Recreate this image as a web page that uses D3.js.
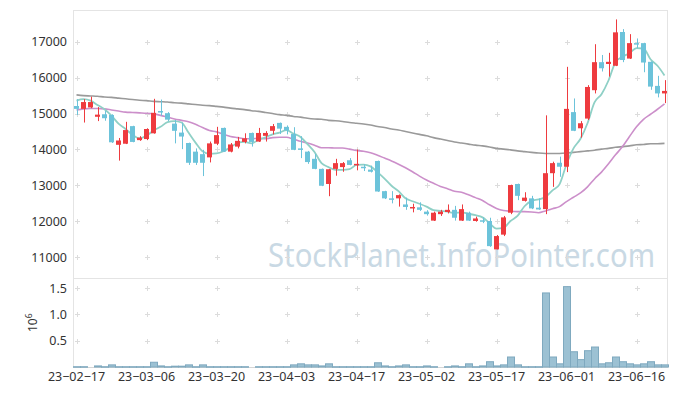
<!DOCTYPE html>
<html>
<head>
<meta charset="utf-8">
<script src="https://cdn.jsdelivr.net/npm/d3@7/dist/d3.min.js"></script>
<style>
    body { margin: 0; background: #fff; }
    svg { display: block; font-family: "Noto Sans", sans-serif; }
</style>
</head>
<body>
<svg id="chart" width="677" height="396"></svg>
<script>

// trading days (yy-mm-dd)
var dates = [
    '23-02-17', '23-02-20', '23-02-21', '23-02-22', '23-02-23', '23-02-24', '23-02-27', '23-02-28', '23-03-02', '23-03-03',
    '23-03-06', '23-03-07', '23-03-08', '23-03-09', '23-03-10', '23-03-13', '23-03-14', '23-03-15', '23-03-16', '23-03-17',
    '23-03-20', '23-03-21', '23-03-22', '23-03-23', '23-03-24', '23-03-27', '23-03-28', '23-03-29', '23-03-30', '23-03-31',
    '23-04-03', '23-04-04', '23-04-05', '23-04-06', '23-04-07', '23-04-10', '23-04-11', '23-04-12', '23-04-13', '23-04-14',
    '23-04-17', '23-04-18', '23-04-19', '23-04-20', '23-04-21', '23-04-24', '23-04-25', '23-04-26', '23-04-27', '23-04-28',
    '23-05-02', '23-05-03', '23-05-04', '23-05-08', '23-05-09', '23-05-10', '23-05-11', '23-05-12', '23-05-15', '23-05-16',
    '23-05-17', '23-05-18', '23-05-19', '23-05-22', '23-05-23', '23-05-24', '23-05-25', '23-05-26', '23-05-30', '23-05-31',
    '23-06-01', '23-06-02', '23-06-05', '23-06-07', '23-06-08', '23-06-09', '23-06-12', '23-06-13', '23-06-14', '23-06-15',
    '23-06-16', '23-06-19', '23-06-20', '23-06-21', '23-06-22'
];

var open = [
    15210, 15130, 15170, 14910, 14980, 14960, 14130, 14160, 14650, 14260,
    14290, 14450, 15070, 15010, 14720, 14470, 14180, 13940, 13870, 13780,
    14160, 14600, 13940, 14080, 14210, 14460, 14220, 14380, 14520, 14740,
    14630, 14430, 14030, 13940, 13740, 13460, 13040, 13460, 13510, 13700,
    13570, 13520, 13440, 13680, 12840, 12640, 12640, 12470, 12380, 12390,
    12270, 12020, 12200, 12260, 12320, 12020, 12240, 12010, 12030, 12010,
    11220, 11630, 12240, 13040, 12570, 12640, 12380, 12340, 13340, 13630,
    13520, 15040, 14590, 14860, 15650, 16430, 16380, 16330, 17270, 16530,
    16960, 16960, 16440, 15770, 15560
];
var high = [
    15400, 15400, 15470, 15180, 15070, 14980, 14320, 14770, 14660, 14370,
    14590, 15410, 15390, 15040, 14820, 14750, 14190, 14030, 13990, 14220,
    14630, 14610, 14180, 14350, 14450, 14470, 14600, 14510, 14710, 14750,
    14670, 14620, 14370, 13960, 13880, 13470, 13460, 13740, 13650, 13760,
    14000, 13590, 13550, 13690, 12850, 12840, 12750, 12660, 12490, 12530,
    12310, 12270, 12320, 12470, 12430, 12470, 12270, 12130, 12110, 12100,
    11620, 12150, 13020, 13050, 12810, 12710, 12640, 14950, 13660, 13800,
    16300, 15420, 14790, 15790, 16930, 16630, 16690, 17620, 17350, 17210,
    17090, 16970, 16450, 16050, 15930
];
var low = [
    14960, 14750, 15150, 14790, 14800, 14180, 13690, 14150, 14200, 14240,
    14260, 14440, 14940, 14790, 14170, 14010, 13570, 13570, 13260, 13640,
    14120, 13930, 13920, 14030, 14170, 14080, 14210, 14220, 14420, 14430,
    14420, 13980, 13760, 13600, 13450, 12980, 12700, 13270, 13380, 13560,
    13420, 13400, 13360, 12820, 12620, 12500, 12410, 12320, 12250, 12290,
    12160, 12010, 12150, 12220, 12020, 12010, 12010, 11990, 11950, 11290,
    11220, 11590, 12200, 12590, 12550, 12340, 12320, 12200, 12960, 13240,
    13370, 14510, 14330, 14820, 15560, 16170, 16030, 16320, 16430, 16520,
    16820, 16150, 15660, 15450, 15290
];
var close = [
    15130, 15320, 15320, 14970, 14870, 14200, 14250, 14540, 14210, 14330,
    14570, 15020, 15030, 14830, 14520, 14360, 13630, 13630, 13630, 14170,
    14400, 13940, 14140, 14240, 14310, 14210, 14460, 14460, 14650, 14580,
    14530, 13990, 14000, 13650, 13460, 12990, 13450, 13620, 13620, 13570,
    13600, 13480, 13380, 12830, 12640, 12610, 12730, 12400, 12400, 12320,
    12200, 12240, 12270, 12320, 12100, 12340, 12020, 12080, 12010, 11310,
    11590, 12110, 13010, 12710, 12660, 12360, 12330, 13340, 13620, 13520,
    15130, 14520, 14730, 15740, 16430, 16260, 16440, 17260, 16490, 16960,
    16940, 16420, 15750, 15560, 15630
];
var volume = [
    15000, 15000, 0, 30000, 15000, 50000, 15000, 15000, 15000, 15000,
    15000, 100000, 30000, 15000, 25000, 25000, 50000, 15000, 50000, 15000,
    15000, 15000, 15000, 15000, 15000, 0, 15000, 15000, 15000, 15000,
    15000, 50000, 70000, 50000, 50000, 30000, 70000, 15000, 15000, 15000,
    15000, 15000, 15000, 90000, 30000, 15000, 30000, 50000, 15000, 15000,
    30000, 15000, 0, 15000, 30000, 15000, 70000, 15000, 30000, 110000,
    30000, 50000, 200000, 50000, 15000, 15000, 15000, 1420000, 200000, 70000,
    1540000, 300000, 150000, 320000, 390000, 70000, 90000, 200000, 110000, 70000,
    50000, 70000, 110000, 50000, 50000
];

// moving averages as drawn
var ma5 = [
    15360, 15400, 15360, 15240, 15120, 14940, 14720, 14570, 14410, 14310,
    14380, 14530, 14630, 14760, 14790, 14750, 14470, 14190, 13950, 13880,
    13890, 13950, 14060, 14180, 14210, 14170, 14270, 14340, 14420, 14470,
    14540, 14440, 14350, 14150, 13930, 13620, 13510, 13430, 13430, 13450,
    13570, 13580, 13530, 13370, 13190, 12990, 12840, 12640, 12560, 12490,
    12410, 12310, 12290, 12270, 12230, 12250, 12210, 12170, 12110, 11950,
    11800, 11820, 12010, 12150, 12420, 12570, 12610, 12680, 12860, 13030,
    13590, 14030, 14300, 14730, 15310, 15540, 15920, 16430, 16580, 16680,
    16820, 16810, 16510, 16330, 16060
];
var ma20 = [
    15100, 15130, 15140, 15140, 15130, 15100, 15070, 15040, 15030, 15020,
    15010, 14990, 14950, 14900, 14850, 14810, 14770, 14700, 14610, 14530,
    14490, 14420, 14360, 14330, 14300, 14300, 14310, 14300, 14330, 14340,
    14340, 14290, 14230, 14180, 14120, 14050, 14050, 14040, 14040, 14010,
    13970, 13950, 13910, 13840, 13760, 13680, 13590, 13490, 13380, 13260,
    13150, 13060, 12970, 12910, 12840, 12810, 12740, 12660, 12580, 12460,
    12360, 12300, 12280, 12270, 12270, 12260, 12240, 12290, 12350, 12410,
    12550, 12670, 12790, 12960, 13180, 13370, 13600, 13850, 14080, 14360,
    14630, 14840, 14980, 15120, 15270
];
var ma60 = [
    15520, 15500, 15490, 15480, 15460, 15450, 15430, 15410, 15390, 15370,
    15360, 15340, 15330, 15320, 15300, 15290, 15270, 15250, 15230, 15220,
    15200, 15180, 15150, 15130, 15110, 15080, 15060, 15030, 15000, 14970,
    14950, 14920, 14900, 14870, 14850, 14840, 14810, 14800, 14780, 14750,
    14730, 14710, 14680, 14640, 14610, 14570, 14540, 14500, 14460, 14420,
    14380, 14330, 14290, 14250, 14210, 14180, 14150, 14120, 14100, 14070,
    14030, 14010, 13990, 13960, 13940, 13920, 13900, 13890, 13890, 13890,
    13900, 13920, 13940, 13960, 13980, 14010, 14030, 14060, 14080, 14100,
    14130, 14140, 14160, 14160, 14170
];

var priceTicks = [11000, 12000, 13000, 14000, 15000, 16000, 17000];
var volumeTicks = [500000, 1000000, 1500000];
var dateTicks = ['23-02-17', '23-03-06', '23-03-20', '23-04-03', '23-04-17', '23-05-02', '23-05-17', '23-06-01', '23-06-16'];

var watermark = 'StockPlanet.InfoPointer.com';


var layout = {
        left: 73, right: 668,
        priceTop: 10, priceBottom: 278,
        volTop: 278, volBottom: 367
    },
    colors = {
        up: '#ee3b3f', down: '#6cc3da',
        ma5: '#8fd0c6', ma20: '#cc8fca', ma60: '#9a9a9a',
        volFill: '#9cc1d3', volStroke: '#7fa9bf',
        frame: '#e4e4e4', grid: '#dcdcdc', text: '#333'
    };

var svg = d3.select('#chart');

var x = d3.scaleBand()
    .domain(dates)
    .range([layout.left, layout.right])
    .padding(0);
var xc = function(d) { return x(d) + x.bandwidth() / 2; };

var yPrice = d3.scaleLinear()
    .domain([10423, 17882])
    .range([layout.priceBottom, layout.priceTop]);

var yVol = d3.scaleLinear()
    .domain([0, 1695000])
    .range([layout.volBottom, layout.volTop]);


// watermark sits behind everything
//
svg.append('text')
    .attr('x', 268)
    .attr('y', 267)
    .attr('font-size', 33)
    .attr('textLength', 387)
    .attr('lengthAdjust', 'spacingAndGlyphs')
    .attr('fill', '#c9d9e4')
    .text(watermark);


// frame
//
var frame = svg.append('g').attr('stroke', colors.frame).attr('fill', 'none');
frame.append('line').attr('x1', layout.left).attr('x2', layout.right - 0.5)
    .attr('y1', layout.priceTop + 0.5).attr('y2', layout.priceTop + 0.5);
frame.append('line').attr('x1', layout.left).attr('x2', layout.right - 0.5)
    .attr('y1', layout.priceBottom + 0.5).attr('y2', layout.priceBottom + 0.5);
frame.append('line').attr('x1', layout.left + 0.5).attr('x2', layout.left + 0.5)
    .attr('y1', layout.priceTop).attr('y2', layout.volBottom);
frame.append('line').attr('x1', layout.right - 0.5).attr('x2', layout.right - 0.5)
    .attr('y1', layout.priceTop).attr('y2', layout.volBottom);
frame.append('line').attr('x1', layout.left).attr('x2', layout.right)
    .attr('y1', layout.volBottom + 0.5).attr('y2', layout.volBottom + 0.5)
    .attr('stroke', '#d6d6d6');


// little crosses at grid intersections
//
var crossPoints = [];
dateTicks.forEach(function(d) {
    priceTicks.forEach(function(p) { crossPoints.push([xc(d), yPrice(p)]); });
    volumeTicks.forEach(function(v) { crossPoints.push([xc(d), yVol(v)]); });
});
svg.append('g')
    .attr('stroke', colors.grid)
    .selectAll('path')
    .data(crossPoints)
    .enter().append('path')
        .attr('d', function(p) {
            var cx = Math.round(p[0]) + 0.5, cy = Math.round(p[1]) + 0.5;
            return 'M' + (cx - 2.5) + ',' + cy + 'h5M' + cx + ',' + (cy - 2.5) + 'v5';
        });


// moving averages
//
var maLine = function(values) {
    return d3.line()
        .x(function(v, i) { return xc(dates[i]); })
        .y(function(v) { return yPrice(v); })
        .curve(d3.curveMonotoneX)(values);
};
[[ma60, colors.ma60, 1.6], [ma20, colors.ma20, 1.6], [ma5, colors.ma5, 1.8]].forEach(function(m) {
    svg.append('path')
        .attr('d', maLine(m[0]))
        .attr('fill', 'none')
        .attr('stroke', m[1])
        .attr('stroke-width', m[2]);
});


// candles
//
var candles = svg.append('g').selectAll('g')
    .data(dates.map(function(d, i) {
        return { date: d, o: open[i], h: high[i], l: low[i], c: close[i] };
    }))
    .enter().append('g')
        .attr('fill', function(d) { return d.c >= d.o ? colors.up : colors.down; })
        .attr('stroke', function(d) { return d.c >= d.o ? colors.up : colors.down; });

candles.append('line')
    .attr('x1', function(d) { return Math.round(xc(d.date)) + 0.5; })
    .attr('x2', function(d) { return Math.round(xc(d.date)) + 0.5; })
    .attr('y1', function(d) { return yPrice(d.h); })
    .attr('y2', function(d) { return yPrice(d.l); })
    .attr('stroke-width', 1);

candles.append('rect')
    .attr('x', function(d) { return x(d.date) + 1; })
    .attr('width', x.bandwidth() - 2)
    .attr('y', function(d) { return yPrice(Math.max(d.o, d.c)); })
    .attr('height', function(d) { return Math.max(1.5, Math.abs(yPrice(d.o) - yPrice(d.c))); })
    .attr('stroke', 'none');


// volume bars
//
svg.append('g').selectAll('rect')
    .data(dates.map(function(d, i) { return { date: d, v: volume[i] }; })
        .filter(function(d) { return d.v > 0; }))
    .enter().append('rect')
        .attr('x', function(d) { return x(d.date) + 0.5; })
        .attr('width', x.bandwidth())
        .attr('y', function(d) { return yVol(d.v) + 0.5; })
        .attr('height', function(d) { return Math.max(0.5, yVol(0) - yVol(d.v) - 0.5); })
        .attr('fill', colors.volFill)
        .attr('stroke', colors.volStroke)
        .attr('stroke-width', 1);


// axes
//
var styleAxis = function(g) {
    g.select('.domain').remove();
    g.selectAll('text')
        .attr('font-family', '"Noto Sans", sans-serif')
        .attr('font-size', 12.5)
        .attr('fill', colors.text);
};

svg.append('g')
    .attr('transform', 'translate(' + layout.left + ',0)')
    .call(d3.axisLeft(yPrice).tickValues(priceTicks).tickSize(0).tickPadding(6)
        .tickFormat(d3.format('d')))
    .call(styleAxis);

svg.append('g')
    .attr('transform', 'translate(' + layout.left + ',0)')
    .call(d3.axisLeft(yVol).tickValues(volumeTicks).tickSize(0).tickPadding(6)
        .tickFormat(function(v) { return (v / 1e6).toFixed(1); }))
    .call(styleAxis);

svg.append('g')
    .attr('transform', 'translate(0,' + layout.volBottom + ')')
    .call(d3.axisBottom(x).tickValues(dateTicks).tickSize(0).tickPadding(5)
        .tickFormat(function(d) { return d.replace(/-/g, '\u2212'); }))
    .call(styleAxis);


// volume unit label
//
var unit = svg.append('text')
    .attr('transform', 'translate(37,332) rotate(-90)')
    .attr('font-size', 12)
    .attr('fill', colors.text);
unit.append('tspan').text('10');
unit.append('tspan').attr('dy', -5).attr('font-size', 8.5).text('6');

</script>
</body>
</html>
